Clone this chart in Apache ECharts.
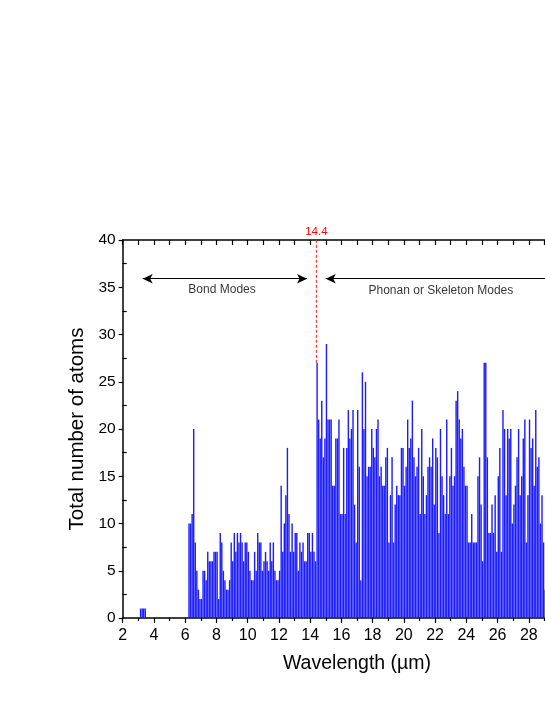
<!DOCTYPE html>
<html>
<head>
<meta charset="utf-8">
<title>Total number of atoms vs wavelength</title>
<script src="https://cdn.jsdelivr.net/npm/echarts@6/dist/echarts.min.js"></script>
<style>
  html, body { margin: 0; padding: 0; background: #fff; }
  #chart { width: 545px; height: 705px; }
</style>
</head>
<body>
<div id="chart"></div>
<script>
// histogram bins, 0.1 µm wide, counts
const binWidth = 0.1;
const farIrStart = 3.1;
const farIrCounts = [1, 1, 1, 1];
const midIrStart = 6.2;
const midIrCounts = [
  // 6.2 - 10.0
  10, 10, 11, 20, 8, 5, 3, 2, 2, 5, 5, 4, 7, 6, 6, 6, 7, 7, 7, 2,
  9, 8, 5, 4, 3, 3, 4, 8, 6, 9, 7, 9, 8, 9, 8, 6, 8, 8, 7,
  // 10.1 - 14.2
  5, 4, 4, 7, 5, 9, 8, 8, 5, 6, 7, 6, 5, 8, 6, 8, 5, 4, 4, 5,
  14, 7, 10, 13, 18, 11, 7, 10, 7, 9, 9, 5, 8, 7, 8, 6, 6, 9, 9, 7, 9, 7,
  // 14.3 - 18.1
  6, 27, 21, 19, 23, 17, 19, 29, 21, 21, 21, 14, 14, 19, 19, 21, 11, 11, 18, 11,
  18, 22, 19, 20, 22, 12, 8, 22, 16, 4, 26, 20, 25, 15, 16, 16, 20, 18, 17,
  // 18.2 - 22.2
  20, 21, 15, 16, 14, 14, 17, 18, 8, 13, 17, 8, 12, 14, 13, 13, 18, 18, 14, 16,
  21, 18, 19, 23, 17, 15, 16, 18, 11, 20, 15, 11, 13, 16, 17, 16, 19, 12, 18, 17, 9,
  // 22.3 - 26.7
  20, 15, 13, 11, 21, 11, 15, 18, 14, 15, 23, 24, 21, 19, 20, 16, 14, 14, 8, 8,
  11, 8, 8, 8, 15, 17, 12, 6, 27, 27, 17, 9, 9, 12, 9, 13, 7, 15, 18, 7,
  22, 20, 13, 20, 19,
  // 26.8 - 29.0
  20, 10, 12, 14, 17, 20, 13, 15, 19, 21, 8, 13, 21, 18, 19, 14, 22, 16, 17, 10,
  13, 8, 3
];

const xTicksMajor = 2;
const yTicks = 5;
const yMinorTicks = [2.5, 7.5, 12.5, 17.5, 22.5, 27.5, 32.5, 37.5];

const markX = 14.4;
const bondArrow = [[3.28, 35.9], [13.8, 35.9]];
const phononArrow = [[15.0, 35.9], [32, 35.9]];
const regionLabels = [
  [8.36, 34.7, 'Bond Modes'],
  [22.37, 34.6, 'Phonan or Skeleton Modes']
];

function toBins(start, counts) {
  return counts.map((n, i) => [Math.round((start + i * binWidth) * 10) / 10, n]);
}
const bins = toBins(farIrStart, farIrCounts).concat(toBins(midIrStart, midIrCounts));
// the dashed marker stops where it meets the bar it points at
const markBin = bins.find(b => b[0] === markX);

const font = 'Liberation Sans, Arial, sans-serif';

var chart = echarts.init(document.getElementById('chart'));

function renderBin(params, api) {
  const x = api.value(0);
  const n = api.value(1);
  const tl = api.coord([x, n]);
  const br = api.coord([x + binWidth, 0]);
  return {
    type: 'rect',
    shape: { x: tl[0], y: tl[1], width: br[0] - tl[0] - 0.15, height: br[1] - tl[1] },
    style: { fill: '#1c1cff' }
  };
}

const option = {
  animation: false,
  textStyle: { fontFamily: font },
  // plot runs past the right edge of the picture (x axis goes to 32, off-canvas)
  grid: { left: 122.7, top: 240, bottom: 87, width: 468.6, show: false,
          outerBoundsMode: 'none', containLabel: false },
  xAxis: [
    {
      type: 'value',
      min: 2, max: 32, interval: xTicksMajor,
      name: 'Wavelength (µm)',
      nameLocation: 'middle',
      nameGap: 36,
      nameTextStyle: { fontSize: 19.5, color: '#000', fontFamily: font },
      axisLine: { show: true, onZero: false, lineStyle: { color: '#000', width: 1.5 } },
      axisTick: { show: true, length: 5, lineStyle: { color: '#000', width: 1.2 } },
      minorTick: { show: true, splitNumber: 2, length: 3, lineStyle: { color: '#000', width: 1.2 } },
      axisLabel: { fontSize: 16, color: '#000', margin: 10, fontFamily: font },
      splitLine: { show: false }
    },
    {
      type: 'value',
      position: 'top',
      min: 2, max: 32, interval: 1,
      axisLine: { show: true, onZero: false, lineStyle: { color: '#000', width: 1.5 } },
      axisTick: { show: true, inside: true, length: 5, lineStyle: { color: '#000', width: 1.2 } },
      axisLabel: { show: false },
      splitLine: { show: false }
    }
  ],
  yAxis: [
    {
      type: 'value',
      min: 0, max: 40, interval: yTicks,
      name: 'Total number of atoms',
      nameLocation: 'middle',
      nameGap: 31,
      nameTextStyle: { fontSize: 20.5, color: '#000', fontFamily: font },
      axisLine: { show: true, onZero: false, lineStyle: { color: '#000', width: 1.5 } },
      axisTick: { show: true, length: 4, lineStyle: { color: '#000', width: 1.2 } },
      axisLabel: { fontSize: 15.5, color: '#000', margin: 7, fontFamily: font },
      splitLine: { show: false }
    },
    {
      type: 'value',
      position: 'left',
      min: 0, max: 40, interval: 2.5,
      axisLine: { show: false },
      axisTick: { show: true, inside: true, length: 4, customValues: yMinorTicks,
                  lineStyle: { color: '#000', width: 1.2 } },
      axisLabel: { show: false },
      splitLine: { show: false }
    }
  ],
  series: [
    {
      // red dashed marker, drawn under the bars
      type: 'line',
      z: 1,
      data: [[markX, markBin[1]], [markX, 40]],
      symbol: 'none',
      lineStyle: { color: '#ff2020', width: 1, type: [3, 2] },
      markPoint: {
        symbol: 'circle',
        symbolSize: 0,
        label: { show: true, position: 'top', distance: 2, formatter: String(markX),
                 color: '#ff0000', fontSize: 11.5, fontFamily: font },
        data: [{ coord: [markX, 40] }]
      }
    },
    {
      type: 'custom',
      z: 2,
      renderItem: renderBin,
      encode: { x: 0, y: 1 },
      data: bins
    },
    {
      // region annotations
      type: 'scatter',
      z: 3,
      symbolSize: 0,
      data: regionLabels,
      label: {
        show: true, position: 'inside', color: '#000', fontSize: 12, fontFamily: font,
        formatter: p => p.data[2]
      },
      markLine: {
        silent: true,
        symbol: ['arrow', 'arrow'],
        symbolSize: [7, 10],
        label: { show: false },
        lineStyle: { color: '#000', width: 1, type: 'solid' },
        data: [
          [{ coord: bondArrow[0] }, { coord: bondArrow[1] }],
          [{ coord: phononArrow[0] }, { coord: phononArrow[1], symbol: 'none' }]
        ]
      }
    }
  ]
};

chart.setOption(option);
</script>
</body>
</html>
